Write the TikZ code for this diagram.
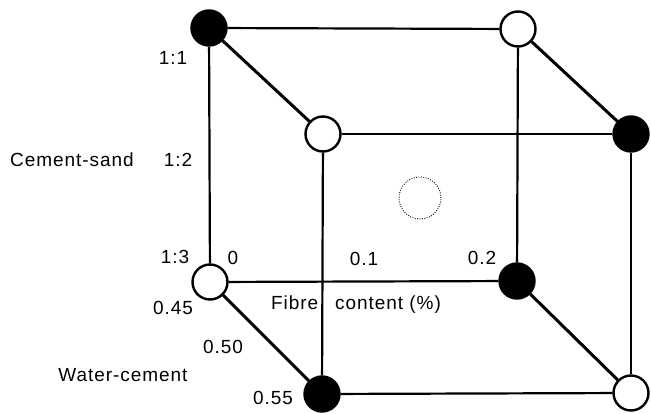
\documentclass[tikz,border=0pt]{standalone}
\usepackage{fontspec}
\newfontfamily\lblfont{Liberation Sans}[LetterSpace=5]
\begin{document}
\begin{tikzpicture}[x=1pt,y=-1pt,
  pt/.style={circle,draw=black,line width=2.4pt,minimum size=35pt,inner sep=0pt},
  full/.style={pt,fill=black},
  empty/.style={pt,fill=white},
  edge/.style={line width=2.2pt},
  slant/.style={line width=3pt},
  lbl/.style={inner sep=0pt,font=\lblfont\fontsize{19}{22}\selectfont}]
\useasboundingbox (0,0) rectangle (651,414);

% design points: back face
\node[full]  (btl) at (209,28)  {};
\node[empty] (btr) at (518,29)  {};
\node[empty] (bbl) at (210,282) {};
\node[full]  (bbr) at (517,281) {};
% design points: front face
\node[empty] (ftl) at (323,134) {};
\node[full]  (ftr) at (631,134) {};
\node[full]  (fbl) at (322,394) {};
\node[empty] (fbr) at (631,393) {};
% centre point
\node[circle,draw=black,line width=1pt,dash pattern=on 0.8pt off 1.6pt,
      minimum size=42pt,inner sep=0pt] (ctr) at (420,198) {};

% cube edges
\draw[edge] (btl) -- (btr);
\draw[edge] (btl) -- (bbl);
\draw[edge] (btr) -- (bbr);
\draw[edge] (bbl) -- (bbr);
\draw[edge] (ftl) -- (ftr);
\draw[edge] (ftl) -- (fbl);
\draw[edge] (ftr) -- (fbr);
\draw[edge] (fbl) -- (fbr);
\draw[slant] (btl) -- (ftl);
\draw[slant] (btr) -- (ftr);
\draw[slant] (bbl) -- (fbl);
\draw[slant] (bbr) -- (fbr);

% cement-sand axis
\node[lbl] (cs11) at (173,58)  {1:1};
\node[lbl] (cs12) at (178,160) {1:2};
\node[lbl] (cs13) at (175,257) {1:3};
\node[lbl] (csax) at (72,160)  {Cement-sand};
% fibre content axis
\node[lbl] (fc0)  at (233,258) {0};
\node[lbl] (fc1)  at (364,259) {0.1};
\node[lbl] (fc2)  at (482,258) {0.2};
\node[lbl] (fcax) at (356,305) {Fibre\hspace{17pt}content (\%)};
% water-cement axis
\node[lbl] (wc45) at (173,308) {0.45};
\node[lbl] (wc50) at (223,347) {0.50};
\node[lbl] (wc55) at (273,398) {0.55};
\node[lbl] (wcax) at (123,375) {Water-cement};
\end{tikzpicture}
\end{document}
